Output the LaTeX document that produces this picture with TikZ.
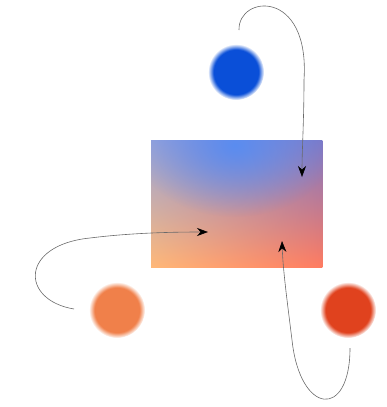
\documentclass[tikz,border=0pt]{standalone}
\usetikzlibrary{arrows.meta,fadings,shadings}
\definecolor{dotblue}{HTML}{0A4FD8}
\definecolor{dotorange}{HTML}{F0804A}
\definecolor{dotred}{HTML}{E0421E}
\definecolor{cUL}{HTML}{98A4DA}
\definecolor{cUR}{HTML}{7E78C6}
\definecolor{cLL}{HTML}{FFB878}
\definecolor{cLR}{HTML}{FF7B60}
\definecolor{blobblue}{HTML}{5A8CF0}
\definecolor{linkgray}{HTML}{6A6A6A}
\tikzfading[name=blobfade, inner color=transparent!0, outer color=transparent!100]
\tikzset{
  softdot/.style={path fading=circle with fuzzy edge 20 percent},
  link/.style={draw=linkgray, line width=0.6pt, -{Stealth[length=11pt,width=8pt,black]}}
}
\begin{document}
\begin{tikzpicture}[x=1pt,y=-1pt]
\useasboundingbox (0,0) rectangle (386,407);
% gradient panel
\node[minimum width=171pt, minimum height=127pt, inner sep=0, anchor=north west] (box) at (151,140) {};
\shade[upper left=cUL, upper right=cUR, lower left=cLL, lower right=cLR] (box.north west) rectangle (box.south east);
\begin{scope}
  \clip (box.north west) rectangle (box.south east);
  \fill[blobblue, path fading=blobfade] (235,145) ellipse (100 and 72);
\end{scope}
% soft dots
\coordinate (bluedot) at (236,72);
\coordinate (orangedot) at (117,310);
\coordinate (reddot) at (348,310);
\fill[dotblue, softdot] (bluedot) circle (28);
\fill[dotorange, softdot] (orangedot) circle (28);
\fill[dotred, softdot] (reddot) circle (28);
% connector ends
\coordinate (s1) at (239,30);
\coordinate (m1) at (304,80);
\coordinate (t1) at (302,177);
\coordinate (s2) at (74,309);
\coordinate (m2) at (90,238);
\coordinate (t2) at (208,232);
\coordinate (s3) at (350,348);
\coordinate (m3) at (292,340);
\coordinate (t3) at (282,241);
\draw[link] (s1) .. controls (238,-5) and (310,-12) .. (m1) .. controls (304,120) and (302,150) .. (t1);
\draw[link] (s2) .. controls (20,300) and (20,245) .. (m2) .. controls (130,233) and (170,232) .. (t2);
\draw[link] (s3) .. controls (350,420) and (300,415) .. (m3) .. controls (287,300) and (283,270) .. (t3);
\end{tikzpicture}
\end{document}
